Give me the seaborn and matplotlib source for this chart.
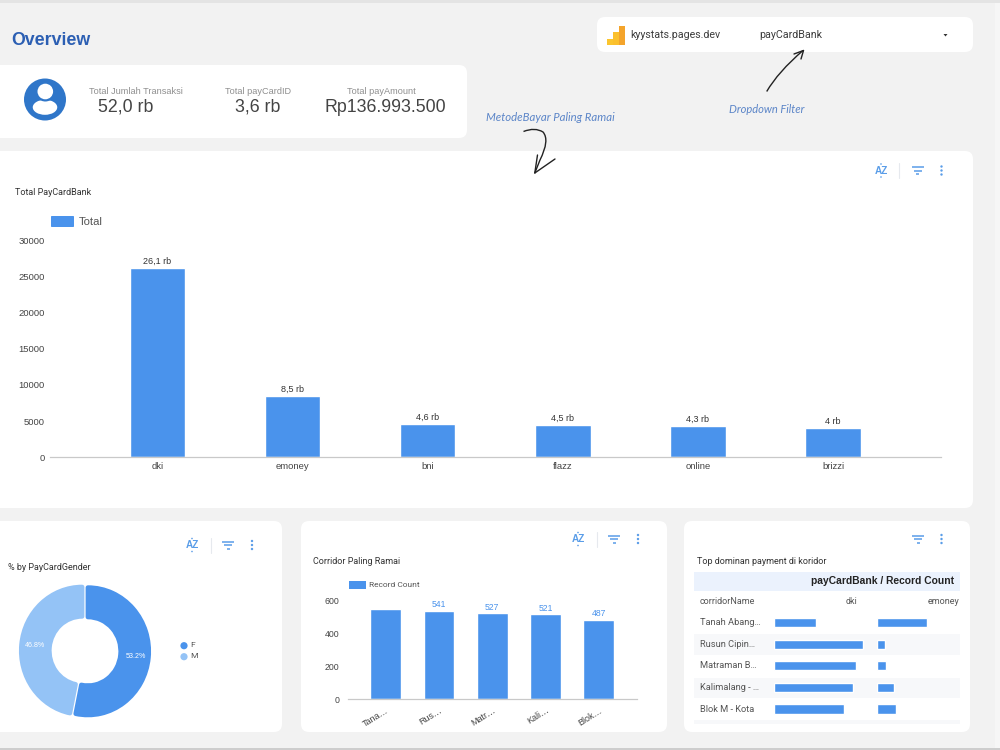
import matplotlib
matplotlib.use("Agg")
import matplotlib.pyplot as plt
import seaborn as sns
from matplotlib.patches import Circle, Ellipse, FancyBboxPatch, PathPatch, Polygon, Rectangle
from matplotlib.path import Path

# Data
bank_names = ["dki", "emoney", "bni", "flazz", "online", "brizzi"]
bank_totals = [26100, 8500, 4600, 4500, 4300, 4000]
bank_labels = ["26,1 rb", "8,5 rb", "4,6 rb", "4,5 rb", "4,3 rb", "4 rb"]

gender_names = ["F", "M"]
gender_shares = [53.2, 46.8]

corridor_ticks = ["Tana…", "Rus…", "Matr…", "Kali…", "Blok…"]
corridor_counts = [553, 541, 527, 521, 487]
corridor_labels = ["", "541", "527", "521", "487"]

table_rows = ["Tanah Abang…", "Rusun Cipin…", "Matraman B…", "Kalimalang - …", "Blok M - Kota"]
table_dki = [130, 278, 256, 246, 220]
table_emoney = [154, 23, 28, 53, 57]

kpi_titles = ["Total Jumlah Transaksi", "Total payCardID", "Total payAmount"]
kpi_values = ["52,0 rb", "3,6 rb", "Rp136.993.500"]

# Palette
BLUE = "#4a93ec"
LIGHT_BLUE = "#94c3f6"
PAGE = "#f2f2f2"
ICON = "#5a9de8"

W, H = 1000, 750
sns.set_theme(style="white")
plt.rcParams["font.family"] = ["Liberation Sans", "DejaVu Sans"]

fig = plt.figure(figsize=(W / 100, H / 100), dpi=100, facecolor=PAGE)

# Pixel-addressed layer holding cards, text and icons
page = fig.add_axes([0, 0, 1, 1], zorder=0)
page.set_xlim(0, W)
page.set_ylim(H, 0)
page.axis("off")


def px(size):
    return size * 0.72


def axes_at(x0, y0, x1, y1):
    ax = fig.add_axes([x0 / W, 1 - y1 / H, (x1 - x0) / W, (y1 - y0) / H], zorder=2)
    ax.patch.set_alpha(0)
    return ax


def card(x0, y0, x1, y1, radius=8):
    page.add_patch(FancyBboxPatch((x0, y0), x1 - x0, y1 - y0,
                                  boxstyle=f"round,pad=0,rounding_size={radius}",
                                  fc="white", ec="none"))


def label(x, y, s, size=9, color="#333333", ha="left", family="Roboto", **kw):
    page.text(x, y, s, fontsize=px(size), color=color, ha=ha, va="center",
              family=family, **kw)


def sort_icon(x, y):
    page.text(x, y, "AZ", fontsize=px(10), color=ICON, ha="center", va="center",
              family="Liberation Sans", fontweight="bold")
    page.add_patch(Circle((x, y - 6.5), 0.8, fc=ICON, ec="none"))
    page.add_patch(Circle((x, y + 6.5), 0.8, fc=ICON, ec="none"))


def filter_icon(x, y):
    for half, dy in zip((6, 4, 1.5), (-3.5, 0, 3.5)):
        page.plot([x - half, x + half], [y + dy, y + dy], color=ICON, lw=1.1,
                  solid_capstyle="butt")


def dots_icon(x, y):
    for dy in (-4, 0, 4):
        page.add_patch(Circle((x, y + dy), 1.2, fc=ICON, ec="none"))


def separator(x, y):
    page.plot([x, x], [y - 7.5, y + 7.5], color="#e6e9ee", lw=0.8)


def toolbar(x_sort, x_sep, x_filter, x_dots, y):
    sort_icon(x_sort, y)
    separator(x_sep, y)
    filter_icon(x_filter, y)
    dots_icon(x_dots, y)


def open_arrow(vertices, codes, arms):
    page.add_patch(PathPatch(Path(vertices, codes), fc="none", ec="#222222", lw=1.0))
    for arm in arms:
        page.plot([arm[0][0], arm[1][0]], [arm[0][1], arm[1][1]], color="#222222", lw=1.0)


# Page edges
page.add_patch(Rectangle((0, 0), W, 3, fc="#e4e4e4", ec="none"))
page.add_patch(Rectangle((0, 748), W, 2, fc="#cdcdcd", ec="none"))
page.add_patch(Rectangle((995, 3), 5, 745, fc="#f6f6f6", ec="none"))

# Cards
card(597, 17, 973, 52)
card(-20, 65, 467, 138)
card(-20, 151, 973, 508)
card(-20, 521, 282, 732)
card(301, 521, 667, 732)
card(684, 521, 970, 732)

# Header
label(11, 40.5, "Overview", size=17.8, color="#2c5fb3", family="Liberation Sans", fontweight="bold")

# Source selector
page.add_patch(Rectangle((606.7, 38.5), 6, 6.2, fc="#fbc52f", ec="none"))
page.add_patch(Rectangle((612.7, 32.3), 6, 12.4, fc="#fbc02d", ec="none"))
page.add_patch(Rectangle((618.7, 26), 6, 18.7, fc="#f4a42b", ec="none"))
label(630.5, 35.5, "kyystats.pages.dev", size=10.6, color="#3c3c3c")
label(759, 35.5, "payCardBank", size=10.6, color="#3c3c3c")
page.add_patch(Polygon([(943.5, 34), (947.5, 34), (945.5, 36.5)], fc="#333333", ec="none"))

# KPI strip
page.add_patch(Circle((45, 99.5), 21, fc="#2f76c9", ec="none"))
page.add_patch(Ellipse((45, 107.3), 24.5, 15, fc="white", ec="none"))
page.add_patch(Circle((45.3, 91.5), 10, fc="#2f76c9", ec="none"))
page.add_patch(Circle((45.3, 91.5), 7.8, fc="white", ec="none"))
kpi_title_x = [136, 258, 381]
kpi_value_x = [126, 258, 385]
for x_t, x_v, t, v in zip(kpi_title_x, kpi_value_x, kpi_titles, kpi_values):
    label(x_t, 91, t, size=9.1, color="#8f8f8f", ha="center", family="Liberation Sans")
    label(x_v, 107.5, v, size=17.8, color="#444444", ha="center", family="Liberation Sans")

# Annotations
label(486, 117.5, "MetodeBayar Paling Ramai", size=11.4, color="#5b85c8", family="Lato", style="italic")
label(729, 109.5, "Dropdown Filter", size=11.1, color="#5b85c8", family="Lato", style="italic")
open_arrow([(766.7, 91.5), (778, 72), (803, 50.5)], [Path.MOVETO, Path.CURVE3, Path.CURVE3],
           [((803.5, 50.5), (794, 54)), ((803.5, 50.5), (801, 59))])
open_arrow([(523.5, 131.5), (535, 127), (543, 132), (550, 140), (540, 160), (534.8, 173)],
           [Path.MOVETO, Path.CURVE3, Path.CURVE3, Path.CURVE3, Path.CURVE3, Path.LINETO],
           [((534.8, 173), (555, 159)), ((534.8, 173), (537.5, 155))])

# Main bar chart
label(15, 192.5, "Total PayCardBank", size=9, color="#333333")
page.add_patch(FancyBboxPatch((51, 216), 23, 11, boxstyle="round,pad=0,rounding_size=0.8", fc=BLUE, ec="none"))
label(78.5, 222, "Total", size=11.2, color="#555555", family="Liberation Sans")
toolbar(881, 899, 917.5, 941.5, 170.5)

ax_main = axes_at(50, 240, 941, 457.2)
sns.barplot(x=bank_names, y=bank_totals, color=BLUE, saturation=1, width=0.41, ax=ax_main)
ax_main.set_xlim(-0.796, 5.799)
ax_main.set_ylim(0, 30000)
ax_main.set_yticks(range(0, 30001, 5000))
ax_main.bar_label(ax_main.containers[0], labels=bank_labels, fontsize=px(9), color="#333333", padding=1.5)
ax_main.tick_params(axis="y", length=0, labelsize=px(9.5), labelcolor="#444444", pad=3.6)
ax_main.tick_params(axis="x", length=0, labelsize=px(9.5), labelcolor="#444444", pad=3.8)
sns.despine(ax=ax_main, left=True)
ax_main.spines["bottom"].set_color("#c9c9c9")
ax_main.spines["bottom"].set_linewidth(0.9)

# Gender donut: rounded corners come from a same-coloured round-joined stroke
label(8, 567, "% by PayCardGender", size=9, color="#333333")
toolbar(192, 210.5, 228, 252, 545)
ax_donut = axes_at(15, 581, 155, 721)
stroke = 4.5
shift = 3.0
outer_edge = 66.0
inner_edge = 32.0
wedges, _, pct_texts = ax_donut.pie(
    gender_shares, colors=[BLUE, LIGHT_BLUE], radius=outer_edge - stroke / 2,
    startangle=90, counterclock=False, explode=[shift] * 2,
    autopct="%.1f%%", pctdistance=50 / (outer_edge - stroke / 2),
    wedgeprops=dict(width=outer_edge - inner_edge - stroke, linewidth=stroke * 0.72, joinstyle="round"),
    textprops=dict(color="white", fontsize=px(7.2), fontweight="medium"),
)
for wedge in wedges:
    wedge.set_edgecolor(wedge.get_facecolor())
ax_donut.set_aspect("auto")
ax_donut.set_xlim(-73.2, 73.2)
ax_donut.set_ylim(-70, 70)
for name, color, y in zip(gender_names, [BLUE, LIGHT_BLUE], [645.7, 656.7]):
    page.add_patch(Circle((184, y), 3.6, fc=color, ec="none"))
    label(190, y - 0.5, name, size=8.5, color="#555555")

# Corridor bars
label(313, 561, "Corridor Paling Ramai", size=9, color="#333333")
page.add_patch(Rectangle((348.5, 581), 17.5, 7.5, fc=BLUE, ec="none"))
label(369, 585, "Record Count", size=8.4, color="#555555")
toolbar(578, 596.5, 614, 638, 539)

ax_corr = axes_at(347.7, 601, 637, 699.3)
sns.barplot(x=corridor_ticks, y=corridor_counts, color=BLUE, saturation=1, width=0.58, ax=ax_corr)
ax_corr.set_xlim(-0.713, 4.715)
ax_corr.set_ylim(0, 600)
ax_corr.set_yticks([0, 200, 400, 600])
ax_corr.bar_label(ax_corr.containers[0], labels=corridor_labels, fontsize=px(8.6), color=BLUE, padding=1)
ax_corr.tick_params(axis="y", length=0, labelsize=px(8.8), labelcolor="#444444", pad=6)
ax_corr.tick_params(axis="x", length=0, labelsize=px(9), labelcolor="#444444", pad=4.5)
for tick in ax_corr.get_xticklabels():
    tick.set_rotation(32)
    tick.set_ha("right")
    tick.set_rotation_mode("anchor")
sns.despine(ax=ax_corr, left=True)
ax_corr.spines["bottom"].set_color("#c9c9c9")
ax_corr.spines["bottom"].set_linewidth(0.9)

# Corridor / payment table
label(697, 561, "Top dominan payment di koridor", size=9, color="#333333")
filter_icon(918, 539)
dots_icon(941.5, 539)
page.add_patch(Rectangle((694, 571.7), 266, 19, fc="#ebf2fd", ec="none"))
label(954, 581.5, "payCardBank / Record Count", size=10.3, color="#222222", ha="right",
      family="Liberation Sans", fontweight="bold")
label(700, 602, "corridorName", size=9, color="#555555")
label(857, 601.5, "dki", size=9, color="#555555", ha="right")
label(959, 601.5, "emoney", size=9, color="#555555", ha="right")
for y0, y1 in [(634.3, 655), (677.7, 698.3), (720, 724.3)]:
    page.add_patch(Rectangle((694, y0), 266, y1 - y0, fc="#f7f8fa", ec="none"))
row_y = [622.7, 644.3, 665.7, 687.3, 709]
for y, name in zip(row_y, table_rows):
    label(700, y, name, size=9.3, color="#555555")

row_step = 21.6
px_per_count = 0.32
for x0, x1, values in [(774, 870, table_dki), (877.3, 955, table_emoney)]:
    ax_cell = axes_at(x0, 622.7 - row_step / 2, x1, 709 + row_step / 2)
    sns.barplot(x=values, y=table_rows, color=BLUE, saturation=1, width=0.43, orient="h", ax=ax_cell)
    ax_cell.set_xlim(0, (x1 - x0) / px_per_count)
    ax_cell.set_ylim(4.5, -0.5)
    ax_cell.axis("off")

fig.savefig("out.png", dpi=100, facecolor=PAGE)
